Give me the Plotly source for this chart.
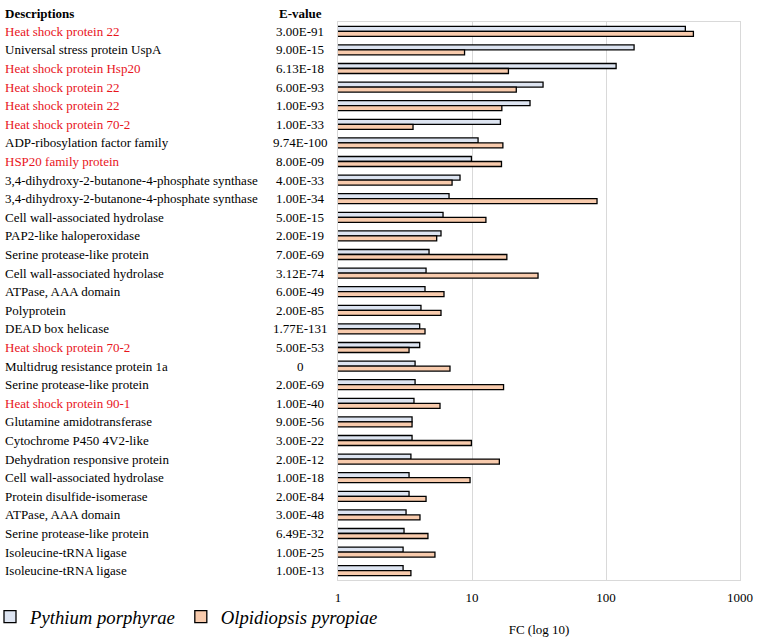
import plotly.graph_objects as go

descriptions = [
    "Heat shock protein 22", "Universal stress protein UspA", "Heat shock protein Hsp20",
    "Heat shock protein 22", "Heat shock protein 22", "Heat shock protein 70-2",
    "ADP-ribosylation factor family", "HSP20 family protein",
    "3,4-dihydroxy-2-butanone-4-phosphate synthase", "3,4-dihydroxy-2-butanone-4-phosphate synthase",
    "Cell wall-associated hydrolase", "PAP2-like haloperoxidase", "Serine protease-like protein",
    "Cell wall-associated hydrolase", "ATPase, AAA domain", "Polyprotein", "DEAD box helicase",
    "Heat shock protein 70-2", "Multidrug resistance protein 1a", "Serine protease-like protein",
    "Heat shock protein 90-1", "Glutamine amidotransferase", "Cytochrome P450 4V2-like",
    "Dehydration responsive protein", "Cell wall-associated hydrolase", "Protein disulfide-isomerase",
    "ATPase, AAA domain", "Serine protease-like protein", "Isoleucine-tRNA ligase", "Isoleucine-tRNA ligase",
]
evalues = [
    "3.00E-91", "9.00E-15", "6.13E-18", "6.00E-93", "1.00E-93", "1.00E-33", "9.74E-100",
    "8.00E-09", "4.00E-33", "1.00E-34", "5.00E-15", "2.00E-19", "7.00E-69", "3.12E-74",
    "6.00E-49", "2.00E-85", "1.77E-131", "5.00E-53", "0", "2.00E-69", "1.00E-40", "9.00E-56",
    "3.00E-22", "2.00E-12", "1.00E-18", "2.00E-84", "3.00E-48", "6.49E-32", "1.00E-25", "1.00E-13",
]
highlight = [True, False, True, True, True, True, False, True] + [False] * 9 + [True, False, False, True] + [False] * 9

pythium = [391, 162, 119, 33.9, 27.1, 16.3, 11.1, 9.9, 8.14, 6.74,
           6.08, 5.87, 4.78, 4.54, 4.46, 4.16, 4.07, 4.07, 3.76, 3.76,
           3.69, 3.57, 3.57, 3.50, 3.39, 3.39, 3.22, 3.11, 3.06, 3.06]
olpidiopsis = [449, 8.8, 18.7, 21.4, 16.7, 3.63, 17.0, 16.6, 7.10, 85.7,
               12.7, 5.45, 18.2, 31.1, 6.18, 5.87, 4.46, 3.39, 6.85, 17.2,
               5.77, 3.57, 9.9, 16.0, 9.67, 4.54, 4.09, 4.69, 5.29, 3.50]
series_names = ["Pythium porphyrae", "Olpidiopsis pyropiae"]
x_ticks = [1, 10, 100, 1000]

FONT = "Liberation Serif, Times New Roman, serif"
rows = list(range(len(descriptions)))

fig = go.Figure()
fig.add_trace(go.Bar(y=rows, x=pythium, orientation="h", name=series_names[0],
                     marker=dict(color="#dde4f1", line=dict(color="black", width=1.3))))
fig.add_trace(go.Bar(y=rows, x=olpidiopsis, orientation="h", name=series_names[1],
                     marker=dict(color="#f8cbad", line=dict(color="black", width=1.3))))

L, R, T, B = 338, 30, 22, 58
W, H = 770, 638
pw = W - L - R
ph = H - T - B

def px2paperx(px):
    return (px - L) / pw

def px2papery(py):
    return (H - B - py) / ph

annotations = []
annotations.append(dict(text="<b>Descriptions</b>", xref="paper", yref="paper",
                        x=px2paperx(3), y=px2papery(13), xanchor="left", yanchor="middle",
                        showarrow=False, font=dict(family=FONT, size=13, color="black")))
annotations.append(dict(text="<b>E-value</b>", xref="paper", yref="paper",
                        x=px2paperx(300), y=px2papery(13), xanchor="center", yanchor="middle",
                        showarrow=False, font=dict(family=FONT, size=13, color="black")))
for i, (d, e, h) in enumerate(zip(descriptions, evalues, highlight)):
    annotations.append(dict(text=d, xref="paper", yref="y", x=px2paperx(3), y=i,
                            xanchor="left", yanchor="middle", showarrow=False,
                            font=dict(family=FONT, size=13, color="#e8141c" if h else "black")))
    annotations.append(dict(text=e, xref="paper", yref="y", x=px2paperx(300), y=i,
                            xanchor="center", yanchor="middle", showarrow=False,
                            font=dict(family=FONT, size=13, color="black")))

fig.update_layout(
    width=W, height=H,
    margin=dict(l=L, r=R, t=T, b=B, autoexpand=False),
    paper_bgcolor="white", plot_bgcolor="white",
    barmode="group", bargap=0.46, bargroupgap=0,
    font=dict(family=FONT, size=13, color="black"),
    showlegend=True,
    legend=dict(orientation="h", x=px2paperx(-10), y=px2papery(617), xanchor="left", yanchor="middle",
                font=dict(family=FONT, size=18.7, color="black", style="italic"),
                bgcolor="rgba(0,0,0,0)", traceorder="normal"),
    xaxis=dict(type="log", range=[0, 3], tickvals=x_ticks, ticktext=[str(v) for v in x_ticks],
               showgrid=True, gridcolor="#d9d9d9", gridwidth=1,
               showline=True, linecolor="#d9d9d9", linewidth=1, mirror=True,
               ticks="", ticklabelstandoff=5, zeroline=False,
               tickfont=dict(family=FONT, size=13, color="black"),
               title=dict(text="FC (log 10)", standoff=21, font=dict(family=FONT, size=13, color="black"))),
    yaxis=dict(range=[len(rows) - 0.5, -0.5], showticklabels=False, showgrid=False,
               showline=True, linecolor="#d9d9d9", linewidth=1, mirror=True, ticks="", zeroline=False),
    annotations=annotations,
)

fig.write_html("out.html", config={"displayModeBar": False},
               post_script="document.body.style.margin='0';document.body.style.overflow='hidden';")
